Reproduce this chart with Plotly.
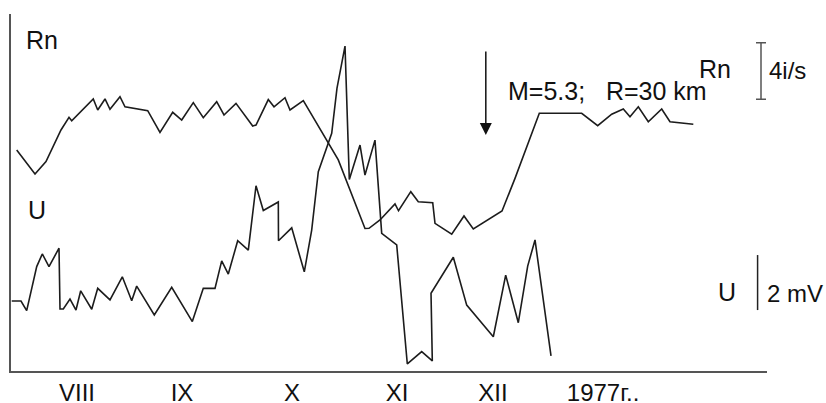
import plotly.graph_objects as go

# Time axis: days counted from 1 August 1976
rn_days = [-2.67, 2.70, 5.92, 10.32, 12.67, 13.46, 19.79, 21.09, 23.23, 24.69,
           27.62, 29.09, 35.75, 39.35, 43.08, 45.72, 49.12, 52.05, 55.98, 58.12,
           61.64, 66.54, 67.51, 71.11, 72.79, 76.01, 77.48, 81.38, 91.64, 99.47,
           100.65, 103.87, 108.27, 109.30, 112.90, 115.10, 119.33, 120.00, 124.90, 128.50,
           131.23, 139.65, 143.46, 150.59, 163.02, 167.71, 171.82, 175.22, 177.18, 179.62,
           182.55, 186.48, 188.91, 195.75]
# Radon, i/s (relative level)
rn_values = [5.65, 3.96, 4.83, 7.07, 7.96, 7.72, 9.26, 8.48, 9.26, 8.53,
             9.42, 8.71, 8.43, 6.90, 8.32, 7.77, 9.00, 7.94, 9.07, 8.13,
             8.95, 7.35, 7.42, 9.22, 8.71, 9.35, 8.48, 9.14, 4.95, 0.11,
             0.12, 0.71, 1.84, 1.36, 2.71, 2.00, 1.93, 0.47, -0.30, 0.99,
             0.07, 1.34, 3.65, 8.25, 8.25, 7.37, 8.18, 8.55, 8.01, 8.71,
             7.65, 8.55, 7.65, 7.47]

u_days = [-4.13, -1.41, 0.26, 3.20, 4.84, 6.80, 9.74, 10.03, 11.00, 12.96,
          14.72, 16.10, 19.33, 21.09, 24.69, 28.30, 31.06, 32.52, 37.68, 42.79,
          48.83, 52.05, 55.48, 57.45, 59.38, 62.14, 65.25, 67.51, 69.65, 74.05,
          74.10, 77.98, 81.67, 83.84, 85.78, 89.71, 91.26, 93.61, 94.87, 98.01,
          99.47, 102.40, 104.37, 108.77, 111.88, 116.10, 119.21, 118.83, 125.37, 129.30,
          137.10, 140.73, 144.43, 147.18, 149.33, 154.02]
# Electric potential U, mV (relative level)
u_values = [2.51, 2.51, 2.16, 3.76, 4.22, 3.76, 4.43, 2.22, 2.22, 2.58,
            2.18, 2.88, 2.21, 2.97, 2.55, 3.39, 2.52, 3.05, 2.00, 3.01,
            1.76, 2.97, 2.97, 3.97, 3.49, 4.70, 4.36, 6.70, 5.80, 6.11,
            4.70, 5.17, 3.57, 5.09, 7.21, 8.61, 10.25, 11.78, 6.93, 8.18,
            7.09, 8.36, 4.97, 4.55, 0.22, 0.67, 0.33, 2.79, 4.10, 2.36,
            1.21, 3.45, 1.72, 3.78, 4.73, 0.51]

month_days = [15.0, 45.8, 78.1, 108.9, 137.0, 169.3]
month_labels = ["VIII", "IX", "X", "XI", "XII", "1977г.."]

# scale bars
rn_scale_day, rn_scale_mid, rn_scale_half = 215.6, 11.24, 2.0   # 4 i/s
u_scale_day, u_scale_mid, u_scale_half = 214.6, 3.18, 1.0       # 2 mV

quake_day = 134.9
quake_text = "M=5.3;   R=30 km"

LINE = "#1c1c1c"
AXIS = "#555555"
FONT = dict(family="Liberation Sans, Arial, sans-serif", size=25, color="#111111")
FONT_S = dict(family="Liberation Sans, Arial, sans-serif", size=24, color="#111111")

fig = go.Figure()
fig.add_trace(go.Scatter(x=rn_days, y=rn_values, mode="lines",
                         line=dict(color=LINE, width=1.6), yaxis="y", showlegend=False))
fig.add_trace(go.Scatter(x=u_days, y=u_values, mode="lines",
                         line=dict(color=LINE, width=1.6), yaxis="y2", showlegend=False))
fig.add_trace(go.Scatter(x=[rn_scale_day], y=[rn_scale_mid], mode="markers",
                         marker=dict(size=1, color="rgba(0,0,0,0)"),
                         error_y=dict(type="data", array=[rn_scale_half], color=AXIS,
                                      thickness=1.5, width=5),
                         yaxis="y", showlegend=False, cliponaxis=False))
fig.add_trace(go.Scatter(x=[u_scale_day], y=[u_scale_mid], mode="markers",
                         marker=dict(size=1, color="rgba(0,0,0,0)"),
                         error_y=dict(type="data", array=[u_scale_half], color="#222222",
                                      thickness=1.5, width=0),
                         yaxis="y2", showlegend=False, cliponaxis=False))

ann = [
    dict(x=0.017, y=0.927, xref="paper", yref="paper", text="Rn", showarrow=False,
         xanchor="left", yanchor="middle", font=FONT),
    dict(x=0.020, y=0.451, xref="paper", yref="paper", text="U", showarrow=False,
         xanchor="left", yanchor="middle", font=FONT),
    dict(x=0.655, y=0.784, xref="paper", yref="paper", text=quake_text, showarrow=False,
         xanchor="left", yanchor="middle", font=FONT),
    dict(x=quake_day, y=0.661, xref="x", yref="paper", text="", showarrow=True,
         ax=0, ay=-85, arrowhead=2, arrowsize=1.6, arrowwidth=1.5, arrowcolor="#111111"),
    dict(x=1.0, y=(371 - 69) / 357, xref="paper", yref="paper", text="Rn", showarrow=False,
         xanchor="right", yanchor="middle", font=FONT, xshift=-34),
    dict(x=1.0, y=(371 - 70) / 357, xref="paper", yref="paper", text="4i/s", showarrow=False,
         xanchor="left", yanchor="middle", font=FONT_S, xshift=0),
    dict(x=1.0, y=(371 - 292) / 357, xref="paper", yref="paper", text="U", showarrow=False,
         xanchor="right", yanchor="middle", font=FONT, xshift=-29),
    dict(x=1.0, y=(371 - 293) / 357, xref="paper", yref="paper", text="2 mV", showarrow=False,
         xanchor="left", yanchor="middle", font=FONT_S, xshift=-2),
]

fig.update_layout(
    template="none",
    width=826, height=403,
    margin=dict(l=11, r=59, t=14, b=32, pad=0),
    paper_bgcolor="white", plot_bgcolor="white",
    font=FONT,
    annotations=ann,
    xaxis=dict(range=[-4.34, 217.36], showline=True, linecolor=AXIS, linewidth=2,
               showgrid=False, zeroline=False, tickmode="array", tickvals=month_days,
               ticktext=month_labels, ticks="", tickfont=FONT_S, ticklabelstandoff=-1,
               automargin=False),
    yaxis=dict(range=[-9.965, 15.265], showline=True, linecolor=AXIS, linewidth=2,
               showgrid=False, zeroline=False, showticklabels=False, ticks="",
               automargin=False),
    yaxis2=dict(range=[-0.036, 12.945], overlaying="y", visible=False, automargin=False),
)

fig.write_html("out.html", config={"displayModeBar": False},
               post_script="document.body.style.margin='0';document.body.style.overflow='hidden';")
